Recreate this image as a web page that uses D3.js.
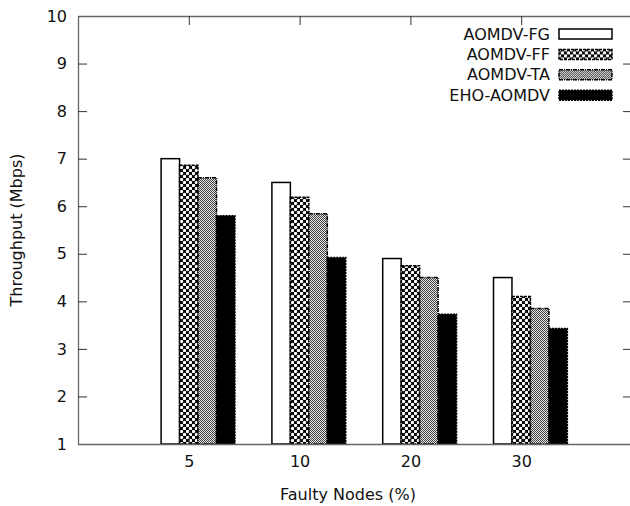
<!DOCTYPE html>
<html>
<head>
<meta charset="utf-8">
<script src="https://cdn.jsdelivr.net/npm/d3@7"></script>
<style>
  body { margin: 0; background: #fff; }
  text { font-family: "DejaVu Sans", sans-serif; }
</style>
</head>
<body>
<svg id="drawing_region"></svg>
<script>
// faulty nodes (%) categories and throughput (Mbps) per protocol
const categories = ['5', '10', '20', '30'];
const seriesNames = ['AOMDV-FG', 'AOMDV-FF', 'AOMDV-TA', 'EHO-AOMDV'];
const aomdvFG = [7.0, 6.5, 4.9, 4.5];
const aomdvFF = [6.86, 6.19, 4.75, 4.1];
const aomdvTA = [6.6, 5.84, 4.5, 3.85];
const ehoAomdv = [5.8, 4.92, 3.73, 3.43];
const yTicks = [1, 2, 3, 4, 5, 6, 7, 8, 9, 10];

const series = [aomdvFG, aomdvFF, aomdvTA, ehoAomdv];

const config = {
    width: 630,
    height: 506,
    margin: {top: 16, right: -2, bottom: 62, left: 78}
};

const svg = d3.select('#drawing_region')
    .attr('width', config.width)
    .attr('height', config.height);

const inner_width = config.width - config.margin.left - config.margin.right;
const inner_height = config.height - config.margin.top - config.margin.bottom;

// fill patterns, like gnuplot's fillstyle pattern
const defs = svg.append('defs');

const pFF = defs.append('pattern')
    .attr('id', 'pat_ff')
    .attr('patternUnits', 'userSpaceOnUse')
    .attr('width', 6).attr('height', 6);
pFF.append('rect').attr('width', 6).attr('height', 6).attr('fill', '#000');
pFF.append('circle').attr('cx', 1.5).attr('cy', 1.5).attr('r', 1.7).attr('fill', '#fff');
pFF.append('circle').attr('cx', 4.5).attr('cy', 4.5).attr('r', 1.7).attr('fill', '#fff');

const pTA = defs.append('pattern')
    .attr('id', 'pat_ta')
    .attr('patternUnits', 'userSpaceOnUse')
    .attr('width', 2).attr('height', 2);
pTA.append('rect').attr('width', 2).attr('height', 2).attr('fill', '#e4e4e4');
pTA.append('rect').attr('width', 1).attr('height', 1).attr('fill', '#444');
pTA.append('rect').attr('x', 1).attr('y', 1).attr('width', 1).attr('height', 1).attr('fill', '#444');

const fills = ['#fff', 'url(#pat_ff)', 'url(#pat_ta)', '#000'];
const dashes = [null, '3,1', '4,1,1,1', '2,1'];

const chart = svg.append('g')
    .attr('transform', `translate(${config.margin.left}, ${config.margin.top})`);

const xscale = d3.scaleLinear()
    .domain([0, categories.length + 1])
    .range([0, inner_width]);

const yscale = d3.scaleLinear()
    .domain([1, 10])
    .range([inner_height, 0]);

const unit = xscale(1) - xscale(0);
const barW = unit / 6;

// bars
const barData = [];
series.forEach((vals, k) => {
    vals.forEach((v, i) => barData.push({k: k, i: i, value: v}));
});

chart.selectAll('rect.bar')
    .data(barData)
    .join('rect')
    .attr('class', 'bar')
    .attr('x', d => xscale(d.i + 1) + ((d.k - 1) / 6 - 1 / 12) * unit)
    .attr('y', d => yscale(d.value))
    .attr('width', barW)
    .attr('height', d => yscale(1) - yscale(d.value))
    .attr('fill', d => fills[d.k])
    .attr('stroke', '#000')
    .attr('stroke-width', 1.5)
    .attr('stroke-dasharray', d => dashes[d.k]);

// axes with inward ticks, mirrored on top and right
const yaxis = d3.axisLeft(yscale)
    .tickValues(yTicks)
    .tickSize(-9)
    .tickSizeOuter(0)
    .tickPadding(11);

const yaxis_r = d3.axisRight(yscale)
    .tickValues(yTicks)
    .tickSize(-9)
    .tickSizeOuter(0)
    .tickFormat('');

const xaxis = d3.axisBottom(xscale)
    .tickValues(d3.range(1, categories.length + 1))
    .tickFormat(d => categories[d - 1])
    .tickSize(-9)
    .tickSizeOuter(0)
    .tickPadding(12);

const xaxis_t = d3.axisTop(xscale)
    .tickValues(d3.range(1, categories.length + 1))
    .tickSize(-9)
    .tickSizeOuter(0)
    .tickFormat('');

chart.append('g').call(yaxis);
chart.append('g').attr('transform', `translate(${inner_width}, 0)`).call(yaxis_r);
chart.append('g').attr('transform', `translate(0, ${inner_height})`).call(xaxis);
chart.append('g').call(xaxis_t);

chart.selectAll('.domain').attr('stroke', '#666').attr('stroke-width', 1.3);
chart.selectAll('.tick line').attr('stroke', '#333');
chart.selectAll('.tick text')
    .attr('font-size', 16)
    .attr('fill', '#111');

// axis titles
svg.append('text')
    .attr('x', 348)
    .attr('y', 500)
    .attr('text-anchor', 'middle')
    .attr('font-size', 16)
    .attr('fill', '#111')
    .text('Faulty Nodes (%)');

svg.append('text')
    .attr('transform', 'translate(22, 230) rotate(-90)')
    .attr('text-anchor', 'middle')
    .attr('font-size', 16)
    .attr('fill', '#111')
    .text('Throughput (Mbps)');

// legend
const legend = svg.append('g');
const rows = legend.selectAll('g')
    .data(seriesNames)
    .join('g')
    .attr('transform', (d, k) => `translate(0, ${34 + k * 20.4})`);

rows.append('text')
    .attr('x', 550)
    .attr('y', 0)
    .attr('dy', '0.35em')
    .attr('text-anchor', 'end')
    .attr('font-size', 16)
    .attr('fill', '#111')
    .text(d => d);

rows.append('rect')
    .attr('x', 559)
    .attr('y', -5)
    .attr('width', 53)
    .attr('height', 10)
    .attr('fill', (d, k) => fills[k])
    .attr('stroke', '#000')
    .attr('stroke-width', 1.5)
    .attr('stroke-dasharray', (d, k) => dashes[k]);
</script>
</body>
</html>
